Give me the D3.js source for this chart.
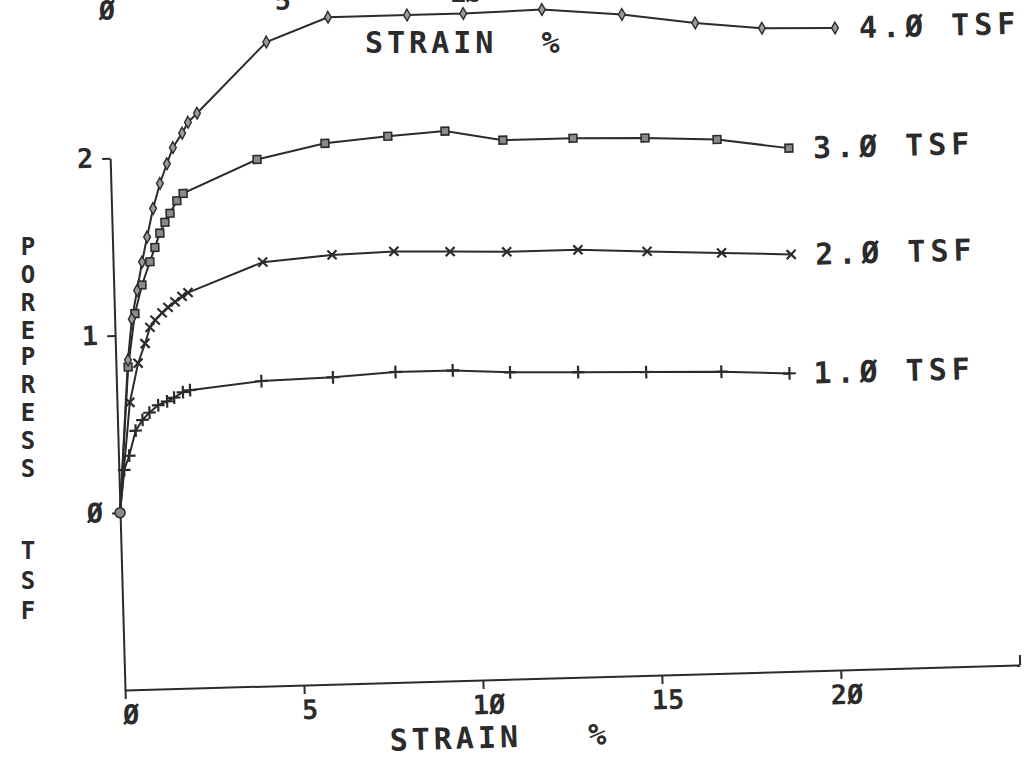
<!DOCTYPE html>
<html>
<head>
<meta charset="utf-8">
<script src="https://cdn.jsdelivr.net/npm/d3@7"></script>
<style>
  body { margin: 0; background: #fff; }
  svg text { font-family: "DejaVu Sans Mono", monospace; fill: #2b2b2b; font-weight: bold; }
</style>
</head>
<body>
<svg id="chart" width="1033" height="769"></svg>
<script>
// readings: strain %, pore pressure tsf
const strain10 = [0, 0.15, 0.3, 0.5, 0.7, 0.9, 1.15, 1.4, 1.6, 1.85, 2.05, 4.05, 6.05, 7.8, 9.4, 11.0, 12.9, 14.8, 16.9, 18.8];
const press10 = [0, 0.24, 0.32, 0.46, 0.52, 0.56, 0.60, 0.62, 0.64, 0.67, 0.68, 0.72, 0.73, 0.75, 0.75, 0.73, 0.72, 0.71, 0.70, 0.68];

const strain20 = [0, 0.36, 0.62, 0.83, 0.98, 1.13, 1.33, 1.50, 1.70, 1.90, 2.07, 4.18, 6.12, 7.85, 9.42, 11.0, 12.99, 14.92, 17.0, 18.94];
const press20 = [0, 0.62, 0.84, 0.95, 1.04, 1.08, 1.12, 1.15, 1.18, 1.21, 1.23, 1.39, 1.42, 1.43, 1.42, 1.41, 1.41, 1.39, 1.37, 1.35];

const strain30 = [0, 0.34, 0.57, 0.79, 1.03, 1.18, 1.33, 1.48, 1.63, 1.83, 2.01, 4.10, 6.01, 7.77, 9.37, 10.98, 12.94, 14.95, 16.96, 18.96];
const press30 = [0, 0.82, 1.12, 1.28, 1.41, 1.49, 1.57, 1.63, 1.68, 1.75, 1.79, 1.97, 2.05, 2.08, 2.10, 2.04, 2.04, 2.03, 2.01, 1.95];

const strain40 = [0, 0.34, 0.48, 0.65, 0.81, 0.97, 1.16, 1.37, 1.58, 1.76, 2.03, 2.20, 2.46, 4.45, 6.19, 8.40, 9.97, 12.17, 14.40, 16.44, 18.30, 20.34];
const press40 = [0, 0.86, 1.09, 1.25, 1.41, 1.55, 1.71, 1.85, 1.96, 2.05, 2.13, 2.19, 2.24, 2.63, 2.76, 2.76, 2.76, 2.77, 2.73, 2.67, 2.63, 2.62];

const seriesNames = ['1.Ø TSF', '2.Ø TSF', '3.Ø TSF', '4.Ø TSF'];
const xTicks = [0, 5, 10, 15, 20];
const yTicks = [0, 1, 2];
const yTitle = ['PORE', 'PRESS', 'TSF'];

const series = [
    { name: seriesNames[0], pts: d3.zip(strain10, press10), mark: 'plus' },
    { name: seriesNames[1], pts: d3.zip(strain20, press20), mark: 'times' },
    { name: seriesNames[2], pts: d3.zip(strain30, press30), mark: 'square' },
    { name: seriesNames[3], pts: d3.zip(strain40, press40), mark: 'diamond' }
];

const ink = '#2b2b2b';
const slashZero = d => String(d).replace(/0/g, 'Ø');

const svg = d3.select('#chart');

// the scanned sheet sits a little crooked, so the whole plot is tilted
const plot = svg.append('g')
    .attr('transform', 'translate(125,690) rotate(-1.6)');

const x = d3.scaleLinear().domain([0, 25]).range([0, 895]);
const y = d3.scaleLinear().domain([-1, 2]).range([0, -532]);

// x axis
plot.append('g')
    .attr('class', 'x-axis')
    .call(d3.axisBottom(x).tickValues(xTicks).tickSize(9).tickSizeOuter(0).tickPadding(6).tickFormat(slashZero))
    .call(g => g.selectAll('.tick text').attr('font-size', 27).attr('dx', 5));
plot.append('g')
    .call(d3.axisTop(x).tickValues([25]).tickSize(10).tickFormat(''))
    .call(g => g.select('.domain').remove());

// y axis
plot.append('g')
    .attr('class', 'y-axis')
    .attr('transform', `translate(0,${y(-1)})`)
    .call(d3.axisLeft(y).tickValues(yTicks).tickSize(8).tickSizeOuter(0).tickPadding(9).tickFormat(slashZero))
    .call(g => g.selectAll('.tick text').attr('font-size', 27));

plot.selectAll('.domain, .tick line').attr('stroke', ink).attr('stroke-width', 2);
plot.selectAll('.tick text').attr('fill', ink).attr('font-family', null);

// curves
const line = d3.line().x(d => x(d[0])).y(d => y(d[1]));

plot.selectAll('.curve')
    .data(series)
    .enter()
    .append('path')
    .attr('class', 'curve')
    .attr('d', d => line(d.pts))
    .attr('fill', 'none')
    .attr('stroke', ink)
    .attr('stroke-width', 2);

const symbols = {
    plus: d3.symbol(d3.symbolPlus, 55),
    times: d3.symbol(d3.symbolTimes, 55),
    square: d3.symbol(d3.symbolSquare, 60),
    diamond: d3.symbol(d3.symbolDiamond, 40)
};

series.forEach(s => {
    const g = plot.append('g').attr('class', 'marks');
    const marks = g.selectAll('path')
        .data(s.pts.slice(1))
        .enter()
        .append('path')
        .attr('transform', d => `translate(${x(d[0])},${y(d[1])})`)
        .attr('d', symbols[s.mark]());
    if (s.mark == 'square') {
        marks.attr('fill', '#8a8a8a').attr('stroke', ink).attr('stroke-width', 1.6);
    } else if (s.mark == 'diamond') {
        marks.attr('fill', '#9a9a9a').attr('stroke', ink).attr('stroke-width', 1.4);
    } else {
        marks.attr('fill', 'none').attr('stroke', ink).attr('stroke-width', 2.2);
    }

    const last = s.pts[s.pts.length - 1];
    plot.append('text')
        .attr('x', x(last[0]) + 24)
        .attr('y', y(last[1]))
        .attr('dy', '0.36em')
        .attr('font-size', 30)
        .attr('letter-spacing', 5)
        .text(s.name);
});

// common start point
plot.append('circle')
    .attr('cx', x(0))
    .attr('cy', y(0))
    .attr('r', 5)
    .attr('fill', '#8a8a8a')
    .attr('stroke', ink)
    .attr('stroke-width', 1.5);

// axis title under the plot
plot.append('text')
    .attr('x', x(7.35))
    .attr('y', 68)
    .attr('font-size', 30)
    .attr('letter-spacing', 4)
    .attr('xml:space', 'preserve')
    .text('STRAIN   %');

// stacked y title
const stackTop = [246, 356, 550], stackStep = [28, 28, 30];
yTitle.forEach((word, wi) => {
    word.split('').forEach((ch, ci) => {
        svg.append('text')
            .attr('x', 28)
            .attr('y', stackTop[wi] + ci * stackStep[wi])
            .attr('dy', '0.36em')
            .attr('text-anchor', 'middle')
            .attr('font-size', 24)
            .text(ch);
    });
});

// bits of the chart printed above this one on the sheet
svg.append('text').attr('x', 107).attr('y', 20).attr('text-anchor', 'middle').attr('font-size', 27).text('Ø');
svg.append('text').attr('x', 283).attr('y', 10).attr('text-anchor', 'middle').attr('font-size', 27).text('5');
svg.append('text').attr('x', 466).attr('y', 2).attr('text-anchor', 'middle').attr('font-size', 27).text('1Ø');
svg.append('text')
    .attr('x', 365)
    .attr('y', 53)
    .attr('font-size', 30)
    .attr('letter-spacing', 4)
    .attr('xml:space', 'preserve')
    .text('STRAIN  %');
</script>
</body>
</html>
